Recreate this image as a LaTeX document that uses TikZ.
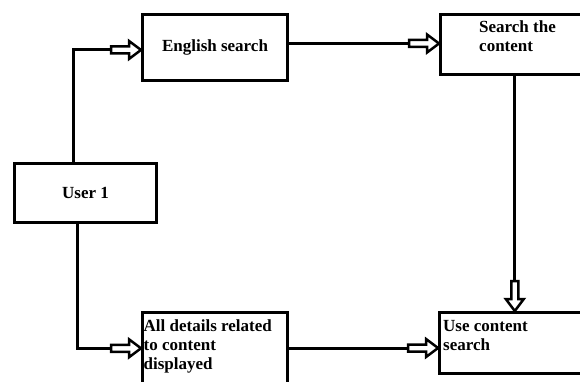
\documentclass[tikz,border=0pt]{standalone}
\usepackage{fontspec}
\setmainfont{Liberation Serif}
\usetikzlibrary{arrows.meta,positioning}
\tikzset{box/.style={draw,line width=3pt,inner sep=0pt}}
\tikzset{boxtext/.style={anchor=north west,inner sep=0pt,align=left}}
\tikzset{link/.style={line width=3pt}}
\tikzset{blockarrow/.pic={
  \draw[line width=2.5pt,fill=white,line join=miter]
    (0pt,0pt) -- (-12pt,9pt) -- (-12pt,3.5pt) -- (-30pt,3.5pt)
    -- (-30pt,-3.5pt) -- (-12pt,-3.5pt) -- (-12pt,-9pt) -- cycle;}}

\begin{document}
\begin{tikzpicture}[x=1pt,y=-1pt,font=\bfseries\fontsize{17}{19}\selectfont]
  \useasboundingbox (0,0) rectangle (580,382);
  \node[box,minimum width=142pt,minimum height=59pt] (user) at (85.5,193) {User 1};
  \node[box,minimum width=145pt,minimum height=66pt] (eng) at (215,47.5) {English search};
  \node[box,minimum width=147.5pt,minimum height=60pt] (srch) at (514.25,44.5) {};
  \node[box,minimum width=145pt,minimum height=79.5pt] (det) at (215,352.25) {};
  \node[box,minimum width=147.5pt,minimum height=61pt] (use) at (513.25,343) {};
  \node[boxtext] (srch text) at (479,20.5) {Search the\\content};
  \node[boxtext] (det text) at (143.5,320) {All details related\\to content\\displayed};
  \node[boxtext] (use text) at (443,320) {Use content\\search};
  % arrow ends
  \coordinate (eng in) at ([yshift=-2.5pt]eng.west);
  \coordinate (det in) at ([yshift=4pt]det.west);
  \coordinate (srch in) at ([yshift=1pt]srch.west);
  \coordinate (use top) at ([xshift=1.5pt]use.north);
  \coordinate (use side) at ([yshift=-5pt]use.west);
  % connectors
  \draw[link] ([xshift=-12pt]user.north) |- ([xshift=-30pt]eng in);
  \pic at (eng in) {blockarrow};
  \draw[link] ([xshift=-8.5pt]user.south) |- ([xshift=-30pt]det in);
  \pic at (det in) {blockarrow};
  \draw[link] (eng.east |- srch in) -- ([xshift=-30pt]srch in);
  \pic at (srch in) {blockarrow};
  \draw[link] (srch.south -| use top) -- ([yshift=30pt]use top);
  \pic[rotate=-90] at (use top) {blockarrow};
  \draw[link] (det.east |- use side) -- ([xshift=-30pt]use side);
  \pic at (use side) {blockarrow};
\end{tikzpicture}
\end{document}
